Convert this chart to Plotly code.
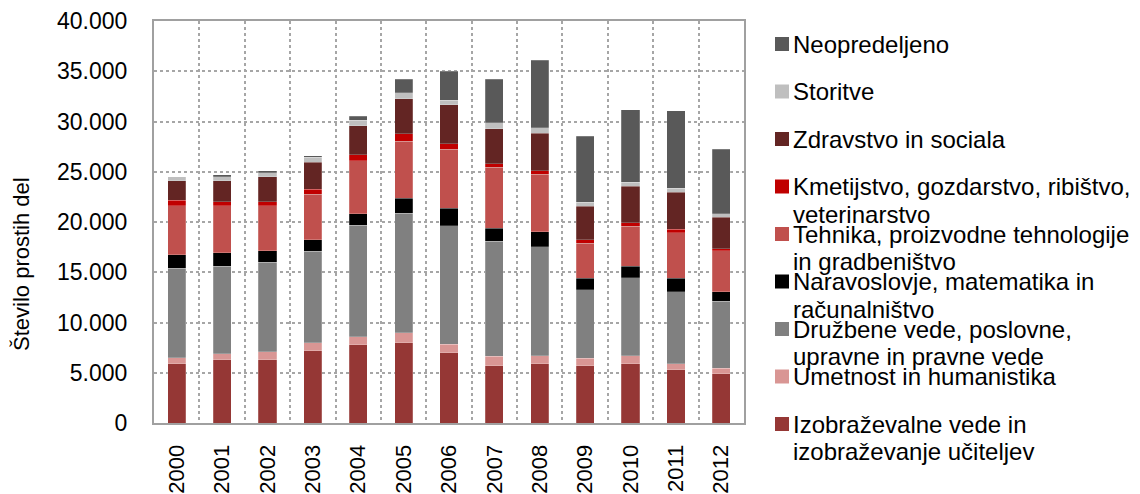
import plotly.graph_objects as go

# Job vacancies by field of education, 2000-2012
years = ["2000", "2001", "2002", "2003", "2004", "2005", "2006",
         "2007", "2008", "2009", "2010", "2011", "2012"]

izobrazevanje = [5900, 6300, 6300, 7200, 7800, 8000, 7000, 5700, 5900, 5700, 5900, 5300, 4900]
umetnost = [600, 600, 800, 800, 800, 1000, 850, 950, 800, 750, 800, 600, 550]
druzbene = [8900, 8700, 8900, 9100, 11100, 11850, 11800, 11450, 10850, 6800, 7750, 7150, 6650]
naravoslovje = [1330, 1330, 1120, 1130, 1130, 1500, 1700, 1300, 1500, 1130, 1130, 1330, 950]
tehnika = [4870, 4670, 4480, 4510, 5270, 5700, 5900, 6050, 5700, 3500, 4000, 4550, 4100]
kmetijstvo = [570, 400, 400, 530, 570, 750, 550, 370, 360, 370, 360, 360, 200]
zdravstvo = [1920, 2090, 2490, 2680, 2900, 3450, 3850, 3480, 3700, 3300, 3600, 3650, 3100]
storitve = [400, 400, 430, 470, 570, 600, 450, 600, 550, 430, 430, 400, 370]
neopredeljeno = [0, 200, 160, 170, 400, 1350, 2900, 4300, 6750, 6550, 7200, 7750, 6400]

# stacking order, bottom to top
series = [izobrazevanje, umetnost, druzbene, naravoslovje, tehnika,
          kmetijstvo, zdravstvo, storitve, neopredeljeno]
labels = [
    ["Izobraževalne vede in", "izobraževanje učiteljev"],
    ["Umetnost in humanistika"],
    ["Družbene vede, poslovne,", "upravne in pravne vede"],
    ["Naravoslovje, matematika in", "računalništvo"],
    ["Tehnika, proizvodne tehnologije", "in gradbeništvo"],
    ["Kmetijstvo, gozdarstvo, ribištvo,", "veterinarstvo"],
    ["Zdravstvo in sociala"],
    ["Storitve"],
    ["Neopredeljeno"],
]
colors = ["#953735", "#D99694", "#808080", "#000000", "#C0504D",
          "#C00000", "#632523", "#BFBFBF", "#595959"]

y_ticks = [0, 5000, 10000, 15000, 20000, 25000, 30000, 35000, 40000]

FONT = "Arial, Liberation Sans, sans-serif"

W, H = 1140, 494
L, R, T, B = 154, 396, 21, 71
plot_w = W - L - R
plot_h = H - T - B

fig = go.Figure()
for vals, lab, col in zip(series, labels, colors):
    fig.add_trace(go.Bar(
        x=years, y=vals, name=" ".join(lab),
        marker=dict(color=col, line=dict(color="rgba(255,255,255,0.35)", width=0.6)),
        showlegend=False,
    ))


def px_x(x):
    return (x - L) / plot_w


def px_y(y):
    return (H - B - y) / plot_h


# legend drawn at the right, top entry first
annotations = []
shapes = []
step = 47.5
line_gap = 27.5
for i, (lab, col) in enumerate(zip(labels[::-1], colors[::-1])):
    yc = 44 + i * step
    shapes.append(dict(
        type="rect", xref="paper", yref="paper",
        x0=px_x(775), x1=px_x(789), y0=px_y(yc + 7), y1=px_y(yc - 7),
        fillcolor=col, line=dict(width=0),
    ))
    for j, txt in enumerate(lab):
        annotations.append(dict(
            text=txt, xref="paper", yref="paper",
            x=px_x(791), y=px_y(yc + j * line_gap),
            xanchor="left", yanchor="middle", showarrow=False,
            font=dict(family=FONT, size=24, color="#000000"),
        ))

annotations.append(dict(
    text="Število prostih del", xref="paper", yref="paper",
    x=px_x(21), y=px_y(264), xanchor="center", yanchor="middle",
    textangle=-90, showarrow=False,
    font=dict(family=FONT, size=22, color="#000000"),
))

fig.update_layout(
    barmode="stack",
    bargap=0.6,
    width=W, height=H,
    margin=dict(l=L, r=R, t=T, b=B, pad=0, autoexpand=False),
    paper_bgcolor="white",
    plot_bgcolor="white",
    separators=",.",
    annotations=annotations,
    shapes=shapes,
    showlegend=False,
    font=dict(family=FONT, color="#000000"),
)

fig.update_xaxes(
    type="category", automargin=False,
    tickson="boundaries",
    showgrid=True, gridcolor="#A6A6A6", griddash="dot", gridwidth=1.5,
    showline=True, linecolor="#A0A0A0", linewidth=2, mirror=True,
    ticks="", ticklen=0, tickangle=-90, ticklabelstandoff=11,
    tickfont=dict(family=FONT, size=22, color="#000000"),
)
fig.update_yaxes(
    range=[0, 40000], automargin=False,
    tickvals=y_ticks, tickformat=",d",
    showgrid=True, gridcolor="#A6A6A6", griddash="dot", gridwidth=1.5,
    zeroline=False,
    showline=True, linecolor="#A0A0A0", linewidth=2, mirror=True,
    ticks="", ticklabelstandoff=20,
    tickfont=dict(family=FONT, size=23, color="#000000"),
)

fig.write_html("out.html")
